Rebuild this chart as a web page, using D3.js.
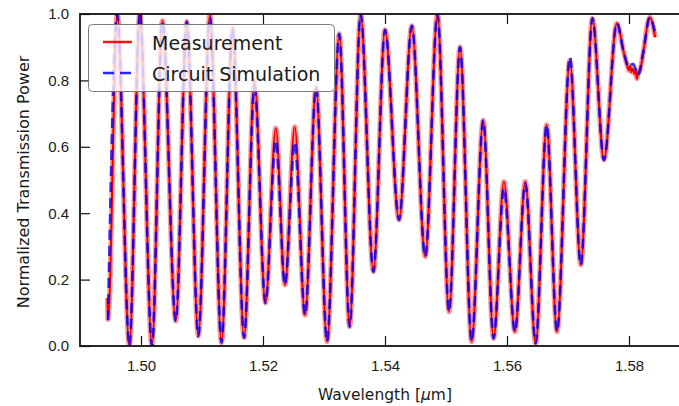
<!DOCTYPE html>
<html>
<head>
<meta charset="utf-8">
<script src="https://cdn.jsdelivr.net/npm/d3@7"></script>
<style>
  body { margin: 0; background: #fff; }
  svg { display: block; font-family: "DejaVu Sans", sans-serif; }
</style>
</head>
<body>
<div id="chart"></div>
<script>
// circuit simulation (blue dashed)
const simWl = [1.4946, 1.4961, 1.4981, 1.4998, 1.5018, 1.5035, 1.5057, 1.5075, 1.5094, 1.5113,
  1.5132, 1.5150, 1.5169, 1.5186, 1.5204, 1.5221, 1.5236, 1.5252, 1.5269, 1.5287,
  1.5305, 1.5325, 1.5342, 1.5360, 1.5381, 1.5400, 1.5423, 1.5444, 1.5466, 1.5486,
  1.5505, 1.5523, 1.5542, 1.5561, 1.5578, 1.5595, 1.5613, 1.5630, 1.5647, 1.5665,
  1.5682, 1.5703, 1.5721, 1.5740, 1.5759, 1.5780, 1.5792, 1.5800, 1.5807, 1.5815,
  1.5823, 1.5834, 1.5843]
const simPow = [0.078, 1.0, 0.0, 1.0, 0.0, 0.98, 0.075, 0.977, 0.03, 0.99,
  0.01, 0.957, 0.025, 0.78, 0.13, 0.62, 0.184, 0.615, 0.093, 0.78,
  0.013, 0.94, 0.058, 1.0, 0.224, 0.952, 0.38, 0.964, 0.269, 1.0,
  0.103, 0.90, 0.013, 0.68, 0.023, 0.475, 0.043, 0.49, 0.008, 0.666,
  0.043, 0.871, 0.244, 0.987, 0.56, 0.972, 0.88, 0.84, 0.85, 0.815,
  0.88, 0.99, 0.94]

// measurement (red solid)
const measWl = [1.4945, 1.4946, 1.4961, 1.4981, 1.4998, 1.5018, 1.5035, 1.5057, 1.5075, 1.5094,
  1.5113, 1.5132, 1.5150, 1.5169, 1.5186, 1.5204, 1.5221, 1.5236, 1.5252, 1.5269,
  1.5287, 1.5305, 1.5325, 1.5342, 1.5360, 1.5381, 1.5400, 1.5423, 1.5444, 1.5466,
  1.5486, 1.5505, 1.5523, 1.5542, 1.5561, 1.5578, 1.5595, 1.5613, 1.5630, 1.5647,
  1.5665, 1.5682, 1.5703, 1.5721, 1.5740, 1.5759, 1.5780, 1.5792, 1.5797, 1.5800,
  1.5802, 1.5804, 1.5806, 1.5809, 1.5811, 1.5813, 1.5815, 1.5818, 1.5823, 1.5834,
  1.5843]
const measPow = [0.145, 0.08, 1.0, 0.0, 1.0, 0.0, 0.98, 0.075, 0.977, 0.03,
  1.0, 0.01, 0.957, 0.025, 0.80, 0.13, 0.656, 0.184, 0.66, 0.093,
  0.78, 0.013, 0.94, 0.058, 1.0, 0.224, 0.952, 0.38, 0.964, 0.269,
  1.0, 0.103, 0.90, 0.013, 0.68, 0.023, 0.495, 0.043, 0.495, 0.008,
  0.666, 0.043, 0.86, 0.244, 0.987, 0.56, 0.972, 0.88, 0.845, 0.83,
  0.845, 0.825, 0.835, 0.82, 0.83, 0.805, 0.825, 0.83, 0.88, 0.99,
  0.93]

const xTicks = [1.50, 1.52, 1.54, 1.56, 1.58]
const yTicks = [0.0, 0.2, 0.4, 0.6, 0.8, 1.0]
const legendLabels = ['Measurement', 'Circuit Simulation']

const width = 679, height = 406
const plotLeft = 80, plotRight = 690, plotTop = 14, plotBottom = 346

const svg = d3.select('#chart')
  .append('svg')
  .attr('width', width)
  .attr('height', height)

const x = d3.scaleLinear().domain([1.49, 1.59]).range([plotLeft, plotRight])
const y = d3.scaleLinear().domain([0, 1]).range([plotBottom, plotTop])

svg.append('clipPath')
  .attr('id', 'plotclip')
  .append('rect')
  .attr('x', plotLeft).attr('y', plotTop)
  .attr('width', plotRight - plotLeft).attr('height', plotBottom - plotTop)

const line = d3.line()
  .x(d => x(d[0]))
  .y(d => y(d[1]))
  .curve(d3.curveMonotoneX)

const meas = measWl.map((w, i) => [w, measPow[i]])
const sim = simWl.map((w, i) => [w, simPow[i]])

const plot = svg.append('g').attr('clip-path', 'url(#plotclip)')

// red measurement: soft halo plus core
plot.append('path')
  .datum(meas)
  .attr('d', line)
  .attr('fill', 'none')
  .attr('stroke', '#f03838')
  .attr('stroke-opacity', 0.5)
  .attr('stroke-width', 5.2)
  .attr('stroke-linejoin', 'round')
plot.append('path')
  .datum(meas)
  .attr('d', line)
  .attr('fill', 'none')
  .attr('stroke', '#ee0000')
  .attr('stroke-width', 2)
  .attr('stroke-linejoin', 'round')

// blue simulation, dashed
plot.append('path')
  .datum(sim)
  .attr('d', line)
  .attr('fill', 'none')
  .attr('stroke', '#0000ff')
  .attr('stroke-opacity', 0.78)
  .attr('stroke-width', 2.7)
  .attr('stroke-dasharray', '10,6')

// axes: frame with inward ticks on all four sides
const axisBottom = d3.axisBottom(x).tickValues(xTicks).tickSize(-10).tickPadding(14).tickFormat(d3.format('.2f'))
const axisTop = d3.axisTop(x).tickValues(xTicks).tickSize(-10).tickFormat('')
const axisLeft = d3.axisLeft(y).tickValues(yTicks).tickSize(-10).tickPadding(11).tickFormat(d3.format('.1f'))
const axisRight = d3.axisRight(y).tickValues(yTicks).tickSize(-10).tickFormat('')

function styleAxis(g) {
  g.select('.domain').remove()
  g.selectAll('.tick line').attr('stroke', '#111').attr('stroke-width', 1.2)
  g.selectAll('.tick text').attr('fill', '#1a1a1a').style('font-size', '15px')
}

svg.append('g').attr('transform', `translate(0,${plotBottom})`).call(axisBottom).call(styleAxis)
svg.append('g').attr('transform', `translate(0,${plotTop})`).call(axisTop).call(styleAxis)
svg.append('g').attr('transform', `translate(${plotLeft},0)`).call(axisLeft).call(styleAxis)
svg.append('g').attr('transform', `translate(${plotRight},0)`).call(axisRight).call(styleAxis)

svg.append('rect')
  .attr('x', plotLeft).attr('y', plotTop)
  .attr('width', plotRight - plotLeft).attr('height', plotBottom - plotTop)
  .attr('fill', 'none')
  .attr('stroke', '#111')
  .attr('stroke-width', 1.8)

svg.append('text')
  .attr('x', (plotLeft + plotRight) / 2)
  .attr('y', 400)
  .attr('text-anchor', 'middle')
  .attr('fill', '#1a1a1a')
  .style('font-size', '15.5px')
  .text('Wavelength [')
  .call(t => t.append('tspan').style('font-style', 'italic').text('μ'))
  .call(t => t.append('tspan').text('m]'))

svg.append('text')
  .attr('transform', `translate(28.5,${(plotTop + plotBottom) / 2 + 2}) rotate(-90)`)
  .attr('text-anchor', 'middle')
  .attr('fill', '#1a1a1a')
  .style('font-size', '16px')
  .text('Normalized Transmission Power')

// legend
const legend = svg.append('g')
legend.append('rect')
  .attr('x', 88.5).attr('y', 24.5)
  .attr('width', 246).attr('height', 67)
  .attr('rx', 4)
  .attr('fill', '#fff')
  .attr('fill-opacity', 0.78)
  .attr('stroke', '#7a7a7a')
  .attr('stroke-width', 1)

const legendRows = [
  { stroke: '#ee0000', dash: null, op: 0.9 },
  { stroke: '#0000ff', dash: '11,6', op: 0.85 }
]
legendLabels.forEach((label, i) => {
  const yy = 42 + i * 31
  legend.append('line')
    .attr('x1', 103).attr('x2', 132)
    .attr('y1', yy).attr('y2', yy)
    .attr('stroke', legendRows[i].stroke)
    .attr('stroke-opacity', legendRows[i].op)
    .attr('stroke-width', 2.5)
    .attr('stroke-dasharray', legendRows[i].dash)
  legend.append('text')
    .attr('x', 152)
    .attr('y', yy + 7.5)
    .attr('fill', '#1a1a1a')
    .style('font-size', '19px')
    .text(label)
})
</script>
</body>
</html>
